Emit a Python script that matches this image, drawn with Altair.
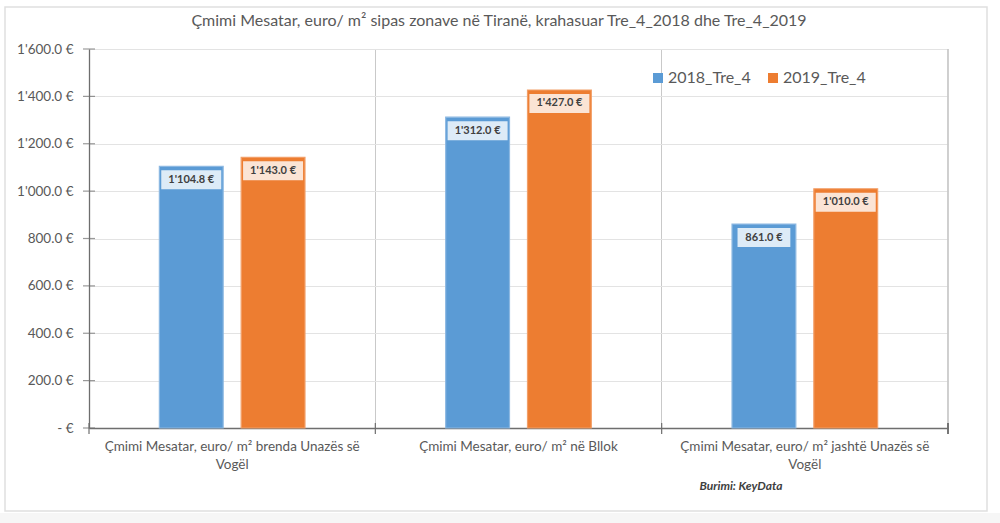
import json
import altair as alt
import pandas as pd

categories = [
    "Çmimi Mesatar, euro/ m² brenda Unazës së Vogël",
    "Çmimi Mesatar, euro/ m² në Bllok",
    "Çmimi Mesatar, euro/ m² jashtë Unazës së Vogël",
]
category_lines = [
    ["Çmimi Mesatar, euro/ m² brenda Unazës së", "Vogël"],
    ["Çmimi Mesatar, euro/ m² në Bllok"],
    ["Çmimi Mesatar, euro/ m² jashtë Unazës së", "Vogël"],
]
series = ["2018_Tre_4", "2019_Tre_4"]
values_2018 = [1104.8, 1312.0, 861.0]
values_2019 = [1143.0, 1427.0, 1010.0]
y_ticks = [0, 200, 400, 600, 800, 1000, 1200, 1400, 1600]
title_text = "Çmimi Mesatar, euro/ m² sipas zonave në Tiranë, krahasuar Tre_4_2018 dhe Tre_4_2019"
source_text = "Burimi: KeyData"

rows = []
for c, a, b in zip(categories, values_2018, values_2019):
    rows.append({"category": c, "series": series[0], "value": a})
    rows.append({"category": c, "series": series[1], "value": b})
df = pd.DataFrame(rows)
ticks_df = pd.DataFrame({"v": y_ticks})
cat_df = pd.DataFrame({"category": categories})

W, H = 859, 379
FONT = "Lato"
GRAY = "#595959"
AXIS = "#6e6e6e"
BLUE = "#5B9BD5"
ORANGE = "#ED7D31"

label_expr = " : ".join(
    f"datum.label == '{c}' ? {json.dumps(l, ensure_ascii=False)}" for c, l in zip(categories, category_lines)
) + " : datum.label"

y_label_expr = "datum.value == 0 ? '-    €' : replace(format(datum.value, ',.1f'), ',', \"'\") + ' €'"
label_calc = "replace(format(datum.value, ',.1f'), ',', \"'\") + ' €'"

x_scale = alt.Scale(domain=categories, paddingInner=0, paddingOuter=0)
y_scale = alt.Scale(domain=[0, 1600], nice=False)

x_enc = alt.X(
    "category:N",
    sort=categories,
    scale=x_scale,
    axis=alt.Axis(
        title=None,
        labelAngle=0,
        labelExpr=label_expr,
        labelFont=FONT,
        labelFontSize=13.5,
        labelColor=GRAY,
        labelLineHeight=18,
        labelPadding=11,
        labelLimit=320,
        bandPosition=0,
        grid=True,
        gridColor="#c9c9c9",
        ticks=False,
        domainColor=AXIS,
        domainWidth=1.3,
    ),
)
xo_enc = alt.XOffset("series:N", sort=series, scale=alt.Scale(paddingInner=0.22, paddingOuter=0.86))

bars = alt.Chart(df).mark_bar(strokeWidth=1.2).encode(
    x=x_enc,
    xOffset=xo_enc,
    y=alt.Y(
        "value:Q",
        scale=y_scale,
        axis=alt.Axis(
            title=None,
            values=y_ticks,
            labelExpr=y_label_expr,
            labelFont=FONT,
            labelFontSize=13.5,
            labelColor=GRAY,
            labelPadding=16,
            ticks=False,
            domainColor=AXIS,
            domainWidth=1.3,
            gridColor="#e3e3e3",
        ),
    ),
    color=alt.Color(
        "series:N",
        sort=series,
        scale=alt.Scale(domain=series, range=[BLUE, ORANGE]),
        legend=alt.Legend(
            title=None,
            orient="none",
            direction="horizontal",
            legendX=561,
            legendY=21,
            symbolType="square",
            symbolSize=100,
            symbolStrokeWidth=0,
            labelFont=FONT,
            labelFontSize=16,
            labelColor=GRAY,
            labelOffset=2,
            columnPadding=14,
        ),
    ),
    stroke=alt.condition(alt.datum.series == series[0], alt.value("#8CB8E2"), alt.value("#F29F68")),
)

path_wide = "M-1,-0.3167H1V0.3167H-1Z"
path_narrow = "M-0.88,-0.3167H0.88V0.3167H-0.88Z"

boxes = alt.Chart(df).mark_point(filled=True, opacity=1, strokeWidth=0, yOffset=13.5).encode(
    x=alt.X("category:N", sort=categories, scale=x_scale),
    xOffset=alt.XOffset("series:N", sort=series),
    y=alt.Y("value:Q", scale=y_scale),
    shape=alt.condition(alt.datum.value >= 1000, alt.value(path_wide), alt.value(path_narrow)),
    size=alt.value(3600),
    fill=alt.condition(alt.datum.series == series[0], alt.value("#DDEBF7"), alt.value("#FBE4D5")),
)

texts = alt.Chart(df).transform_calculate(lbl=label_calc).mark_text(
    font=FONT, fontSize=11, fontWeight="bold", color="#404040", baseline="middle", dy=13.5
).encode(
    x=alt.X("category:N", sort=categories, scale=x_scale),
    xOffset=alt.XOffset("series:N", sort=series),
    y=alt.Y("value:Q", scale=y_scale),
    text="lbl:N",
)

y_ticks_layer = alt.Chart(ticks_df).mark_tick(color=AXIS, orient="horizontal", size=12, thickness=1.2).encode(
    y=alt.Y("v:Q", scale=y_scale),
    x=alt.value(0),
)
x_ticks_layer = alt.Chart(cat_df).mark_rule(color=AXIS, strokeWidth=1.2).encode(
    x=alt.X("category:N", sort=categories, scale=x_scale, bandPosition=0),
    y=alt.value(H - 5),
    y2=alt.value(H + 6),
)

right_edge = alt.Chart(cat_df).mark_rule(color="#c9c9c9").encode(
    x=alt.value(W), y=alt.value(0), y2=alt.value(H)
)
right_tick = alt.Chart(cat_df).mark_rule(color=AXIS, strokeWidth=1.2).encode(
    x=alt.value(W), y=alt.value(H - 5), y2=alt.value(H + 6)
)

title = alt.Chart(pd.DataFrame({"t": [title_text]})).mark_text(
    font=FONT, fontSize=16, color=GRAY, align="center", baseline="middle"
).encode(x=alt.value(410), y=alt.value(-28), text="t:N")

source = alt.Chart(pd.DataFrame({"t": [source_text]})).mark_text(
    font=FONT, fontSize=12, fontWeight="bold", fontStyle="italic", color="#404040", align="center", baseline="middle"
).encode(x=alt.value(652), y=alt.value(437), text="t:N")

frame = alt.Chart(pd.DataFrame({"a": [0]})).mark_rect(fillOpacity=0, stroke="#e0e0e0", strokeWidth=1.5).encode(
    x=alt.value(-84), x2=alt.value(898), y=alt.value(-42), y2=alt.value(462)
)
bottom_strip = alt.Chart(pd.DataFrame({"a": [0]})).mark_rect(fill="#f6f6f6").encode(
    x=alt.value(-89), x2=alt.value(911), y=alt.value(464), y2=alt.value(474)
)

chart = alt.layer(
    frame, bottom_strip, bars, boxes, texts, y_ticks_layer, x_ticks_layer, right_edge, right_tick, title, source
).properties(
    width=W,
    height=H,
    autosize=alt.AutoSizeParams(type="none"),
    padding={"left": 89, "top": 49, "right": 52, "bottom": 95},
    background="white",
).configure_view(stroke=None)

chart.save("out.html", embed_options={"renderer": "svg", "actions": False})
